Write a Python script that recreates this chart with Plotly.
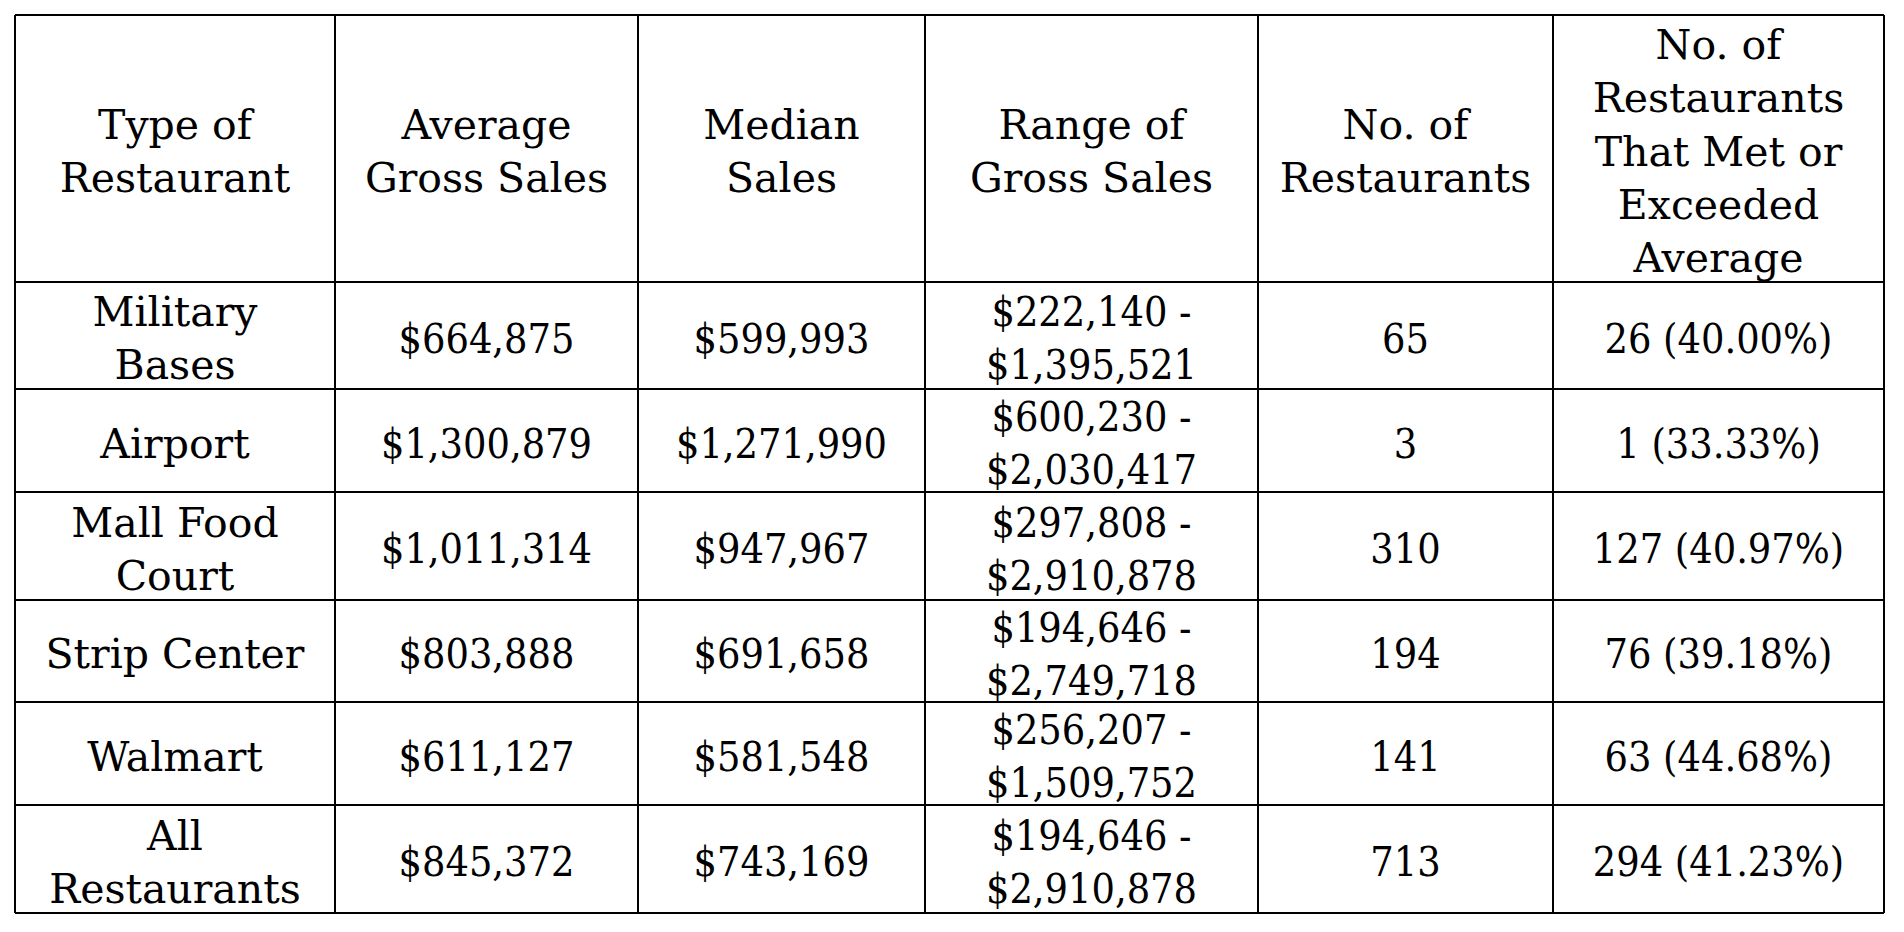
import plotly.graph_objects as go

# ---------------- data ----------------
headers = [
    "Type of<br>Restaurant",
    "Average<br>Gross Sales",
    "Median<br>Sales",
    "Range of<br>Gross Sales",
    "No. of<br>Restaurants",
    "No. of<br>Restaurants<br>That Met or<br>Exceeded<br>Average",
]
restaurant_types = ["Military<br>Bases", "Airport", "Mall Food<br>Court", "Strip Center", "Walmart", "All<br>Restaurants"]
avg_gross_sales = [664875, 1300879, 1011314, 803888, 611127, 845372]
median_sales = [599993, 1271990, 947967, 691658, 581548, 743169]
range_low = [222140, 600230, 297808, 194646, 256207, 194646]
range_high = [1395521, 2030417, 2910878, 2749718, 1509752, 2910878]
num_restaurants = [65, 3, 310, 194, 141, 713]
num_met_avg = [26, 1, 127, 76, 63, 294]
pct_met_avg = [40.00, 33.33, 40.97, 39.18, 44.68, 41.23]

# ---------------- layout constants ----------------
COL_WIDTHS = [320, 303, 287, 333, 295, 331]
HEADER_H = 267
ROW_HEIGHTS = [107, 103, 108, 102, 103, 108]
TEXT_FAMILY = "DejaVu Serif"
NUM_FAMILY = "DejaVu Serif Condensed, DejaVu Serif"
FONT_SIZE = 41
LINE = dict(color="black", width=2)
TEXT_DY = 7  # small downward nudge so text sits centred in cells

# ---------------- build cell text ----------------
columns = [
    restaurant_types,
    [f"${v:,}" for v in avg_gross_sales],
    [f"${v:,}" for v in median_sales],
    [f"${lo:,} -<br>${hi:,}" for lo, hi in zip(range_low, range_high)],
    [str(v) for v in num_restaurants],
    [f"{m} ({p:.2f}%)" for m, p in zip(num_met_avg, pct_met_avg)],
]

# column edges / row edges in axis units
x_edges = [0]
for w in COL_WIDTHS:
    x_edges.append(x_edges[-1] + w)
row_hs = [HEADER_H] + ROW_HEIGHTS
y_edges = [0]
for h in row_hs:
    y_edges.append(y_edges[-1] + h)

x_centers = [(x_edges[i] + x_edges[i + 1]) / 2 for i in range(len(COL_WIDTHS))]
y_centers = [(y_edges[i] + y_edges[i + 1]) / 2 + TEXT_DY for i in range(len(row_hs))]

xs, ys, texts, fams = [], [], [], []
for ci, col in enumerate(columns):
    cells = [headers[ci]] + col
    for ri, t in enumerate(cells):
        xs.append(x_centers[ci])
        ys.append(y_centers[ri])
        texts.append(t)
        fams.append(TEXT_FAMILY if (ri == 0 or ci == 0) else NUM_FAMILY)

fig = go.Figure()
fig.add_trace(go.Scatter(
    x=xs, y=ys, text=texts, mode="text",
    textposition="middle center",
    textfont=dict(family=fams, size=FONT_SIZE, color="black"),
    hoverinfo="skip", showlegend=False,
))

shapes = []
for xe in x_edges:
    shapes.append(dict(type="line", xref="x", yref="y", x0=xe, x1=xe,
                       y0=y_edges[0], y1=y_edges[-1], line=LINE))
for ye in y_edges:
    shapes.append(dict(type="line", xref="x", yref="y", x0=x_edges[0], x1=x_edges[-1],
                       y0=ye, y1=ye, line=LINE))

W, H = 1896, 924
LEFT, TOP = 7, 7
fig.update_layout(
    width=W, height=H,
    margin=dict(l=0, r=0, t=0, b=0),
    paper_bgcolor="white", plot_bgcolor="white",
    shapes=shapes,
    xaxis=dict(range=[-LEFT, W - LEFT], visible=False, fixedrange=True),
    yaxis=dict(range=[H - TOP, -TOP], visible=False, fixedrange=True),
)

fig.write_html("out.html", config={"displayModeBar": False})
